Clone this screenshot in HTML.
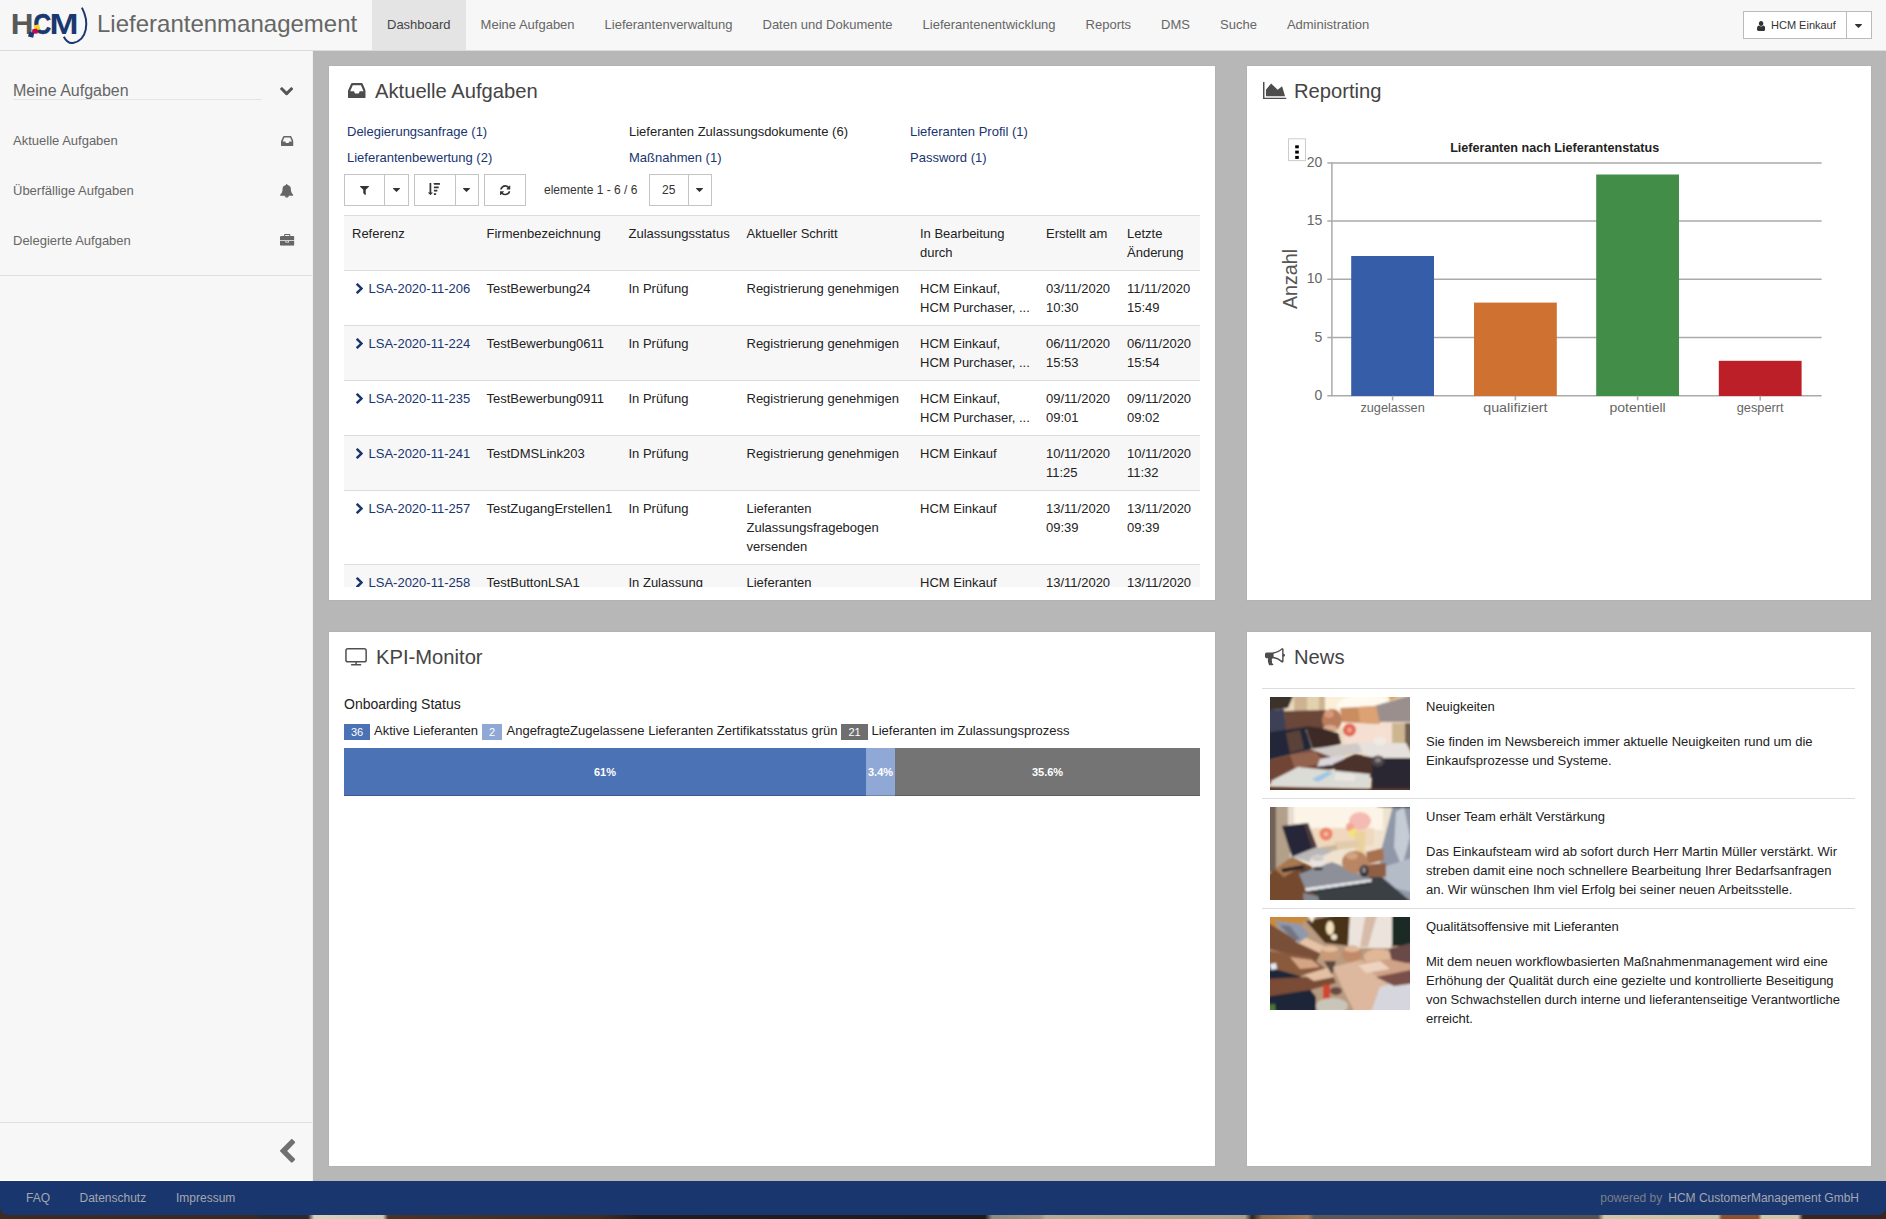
<!DOCTYPE html>
<html lang="de">
<head>
<meta charset="utf-8">
<title>Lieferantenmanagement</title>
<style>
*{box-sizing:border-box;}
html,body{margin:0;padding:0;}
body{width:1886px;height:1219px;overflow:hidden;position:relative;background:#3a2b22;font-family:"Liberation Sans",Arial,sans-serif;font-size:13px;line-height:19px;color:#222;}
a{color:#18356f;text-decoration:none;}
svg{display:block;}
.abs{position:absolute;}
#bgstrip{position:absolute;left:0;top:1205px;width:1886px;height:14px;background:linear-gradient(90deg,#3b2b23 0px,#3a2a24 255px,#2a2830 262px,#2c2a30 308px,#d6d2be 314px,#cfcab4 383px,#4a3428 388px,#3f2c24 600px,#221d1e 640px,#1f1b1c 985px,#8a8a80 992px,#9a9484 1040px,#b4ac94 1046px,#a8a08a 1245px,#2a2422 1252px,#8a6a4a 1262px,#a08060 1308px,#5a5858 1314px,#555252 1598px,#d0c8a8 1604px,#c8c0a0 1718px,#8a5030 1722px,#8a5030 1758px,#cfc7a8 1762px,#cfc7a8 1798px,#3a2420 1803px,#3a2420 1886px);}
#header{position:absolute;left:0;top:0;width:1886px;height:51px;background:#f7f7f7;border-bottom:1px solid #dcdcdc;}
#brand{position:absolute;left:97px;top:9px;font-size:24px;line-height:30px;color:#666;}
#nav{position:absolute;left:372px;top:0;height:50px;display:flex;}
#nav div{height:50px;padding:0 15px;line-height:49px;font-size:13px;color:#666;white-space:nowrap;}
#nav div.act{background:#e4e4e4;color:#444;}
#userbtn{position:absolute;left:1743px;top:11px;width:129px;height:28px;border:1px solid #bbb;background:#fff;}
#sidebar{position:absolute;left:0;top:51px;width:313px;height:1130px;background:#f7f7f7;border-right:1px solid #f0f0f0;border-bottom:1px solid #fff;}
#main{position:absolute;left:313px;top:51px;width:1573px;height:1130px;background:#b7b7b7;}
.panel{position:absolute;background:#fff;border:1px solid #b2b2b2;}
.ptitle{position:absolute;font-size:20.2px;line-height:26px;color:#444;white-space:nowrap;}
#footer{position:absolute;left:0;top:1181px;width:1886px;height:33.6px;background:#19366e;border-radius:0 0 8px 8px;color:#a4a7ae;font-size:12px;line-height:34.6px;}

.ic{position:absolute;overflow:visible;}
#logo{position:absolute;left:0;top:0;}
#userbtn .sep{position:absolute;left:102px;top:0;width:1px;height:26px;background:#bbb;}
#userbtn .t{position:absolute;left:27px;top:0;font-size:11px;line-height:26px;color:#333;white-space:nowrap;}
#sb-h{position:absolute;left:13px;top:30px;width:249px;height:19px;font-size:16px;line-height:19px;color:#666;border-bottom:1px solid #e4e4e4;}
.sb-i{position:absolute;left:13px;font-size:13px;line-height:19px;color:#666;white-space:nowrap;}
.sb-line{position:absolute;left:0;width:312px;height:1px;background:#e0e0e0;}
#footer span{position:absolute;top:0;white-space:nowrap;}

.lnk{position:absolute;font-size:13px;line-height:19px;white-space:nowrap;color:#18356f;}
.btn{position:absolute;top:108px;height:32px;background:#fff;border:1px solid #c4c4c4;}
.btn i{position:absolute;top:0;width:1px;height:30px;background:#c4c4c4;}
#tblwrap{position:absolute;left:15px;top:149px;width:856px;height:372px;overflow:hidden;}
#tbl{border-collapse:collapse;table-layout:fixed;width:856px;font-size:13px;line-height:19px;color:#222;}
#tbl th,#tbl td{padding:8px;border-top:1px solid #ddd;text-align:left;vertical-align:top;font-weight:normal;white-space:nowrap;overflow:visible;}
#tbl th{background:#f7f7f7;}
#tbl tr.alt td{background:#f7f7f7;}
#tbl td.ref{position:relative;padding-left:24.5px;}
#tbl td.ref svg{position:absolute;left:12.2px;top:11.8px;}

.bdg{position:absolute;top:91.5px;height:16.5px;color:#fff;font-size:11px;line-height:16.5px;text-align:center;}
.lg{position:absolute;top:89px;font-size:13px;line-height:19px;white-space:nowrap;color:#222;}
#kbar{position:absolute;left:15px;top:116px;width:856px;height:48px;box-shadow:inset 0 -1px 0 rgba(0,0,0,.25);}
#kbar div{position:absolute;top:0;height:48px;color:#fff;font-size:11px;font-weight:bold;line-height:48px;text-align:center;box-shadow:inset 0 -1px 0 rgba(0,0,0,.2);}
.nline{position:absolute;left:15px;width:593px;height:1px;background:#ddd;}
.nimg{position:absolute;left:23px;width:140px;height:93px;overflow:hidden;}
.nt{position:absolute;left:179px;width:425px;font-size:13px;line-height:19px;color:#222;}
</style>
</head>
<body>
<svg width="0" height="0" style="position:absolute">
<defs>
<symbol id="i-chev-down" viewBox="90 533 1612 1035" preserveAspectRatio="none"><path d="M1683 808l-742 741q-19 19-45 19t-45-19l-742-741q-19-19-19-45.500t19-45.500l166-165q19-19 45-19t45 19l531 531 531-531q19-19 45-19t45 19l166 165q19 19 19 45.500t-19 45.500z"/></symbol>
<symbol id="i-chev-left" viewBox="410 26 1036 1612" preserveAspectRatio="none"><path d="M1427 301l-531 531 531 531q19 19 19 45t-19 45l-166 166q-19 19-45 19t-45-19l-742-742q-19-19-19-45t19-45l742-742q19-19 45-19t45 19l166 166q19 19 19 45t-19 45z"/></symbol>
<symbol id="i-chev-right" viewBox="346 26 1036 1612" preserveAspectRatio="none"><path d="M1363 877l-742 742q-19 19-45 19t-45-19l-166-166q-19-19-19-45t19-45l531-531-531-531q-19-19-19-45t19-45l166-166q19-19 45-19t45 19l742 742q19 19 19 45t-19 45z"/></symbol>
<symbol id="i-caret" viewBox="384 640 1024 576" preserveAspectRatio="none"><path d="M1408 704q0 26-19 45l-448 448q-19 19-45 19t-45-19l-448-448q-19-19-19-45t19-45 45-19h896q26 0 45 19t19 45z"/></symbol>
<symbol id="i-filter" viewBox="191 256 1410 1408" preserveAspectRatio="none"><path d="M1595 295q17 41-14 70l-493 493v742q0 42-39 59-13 5-25 5-27 0-45-19l-256-256q-19-19-19-45v-486l-493-493q-31-29-14-70 17-39 59-39h1280q42 0 59 39z"/></symbol>
<symbol id="i-refresh" viewBox="128 128 1536 1536" preserveAspectRatio="none"><path d="M1639 1056q0 5-1 7-64 268-268 434.500t-478 166.500q-146 0-282.500-55t-243.500-157l-129 129q-19 19-45 19t-45-19-19-45v-448q0-26 19-45t45-19h448q26 0 45 19t19 45-19 45l-137 137q71 66 161 102t187 36q134 0 250-65t186-179q11-17 53-117 8-23 30-23h192q13 0 22.500 9.500t9.500 22.500zm25-800v448q0 26-19 45t-45 19h-448q-26 0-45-19t-19-45 19-45l138-138q-148-137-349-137-134 0-250 65t-186 179q-11 17-53 117-8 23-30 23h-199q-13 0-22.500-9.500t-9.500-22.500v-7q65-268 270-434.500t480-166.500q146 0 284 55.500t245 156.500l130-129q19-19 45-19t45 19 19 45z"/></symbol>
<symbol id="i-inbox" viewBox="128 256 1536 1280" preserveAspectRatio="none"><path d="M1151 960h316q-1-3-2.500-8t-2.500-8l-212-496h-708l-212 496q-1 2-2.500 8t-2.500 8h316l95 192h320zm513 30v482q0 26-19 45t-45 19h-1408q-26 0-45-19t-19-45v-482q0-62 25-123l238-552q10-25 36.500-42t52.500-17h832q26 0 52.500 17t36.500 42l238 552q25 61 25 123z"/></symbol>
<symbol id="i-bell" viewBox="64 0 1664 1792" preserveAspectRatio="none"><path d="M912 1696q0-16-16-16-59 0-101.500-42.500t-42.500-101.500q0-16-16-16t-16 16q0 73 51.500 124.500t124.500 51.500q16 0 16-16zm816-288q0 52-38 90t-90 38h-448q0 106-75 181t-181 75-181-75-75-181h-448q-52 0-90-38t-38-90q50-42 91-88t85-119.500 74.500-158.500 50-206 19.500-260q0-152 117-282.500t307-158.500q-8-19-8-39 0-40 28-68t68-28 68 28 28 68q0 20-8 39 190 28 307 158.500t117 282.500q0 139 19.500 260t50 206 74.500 158.500 85 119.500 91 88z"/></symbol>
<symbol id="i-briefcase" viewBox="0 0 1792 1536" preserveAspectRatio="none"><path d="M640 256h512v-128h-512v128zm1152 640v480q0 66-47 113t-113 47h-1472q-66 0-113-47t-47-113v-480h672v160q0 26 19 45t45 19h320q26 0 45-19t19-45v-160h672zm-768 0v128h-256v-128h256zm768-480v384h-1792v-384q0-66 47-113t113-47h352v-160q0-40 28-68t68-28h576q40 0 68 28t28 68v160h352q66 0 113 47t47 113z"/></symbol>
<symbol id="i-desktop" viewBox="-64 0 1920 1664" preserveAspectRatio="none"><path d="M1728 992v-832q0-13-9.500-22.500t-22.500-9.500h-1600q-13 0-22.500 9.500t-9.500 22.500v832q0 13 9.500 22.500t22.500 9.500h1600q13 0 22.500-9.500t9.500-22.500zm128-832v1088q0 66-47 113t-113 47h-544q0 37 16 77.500t32 71 16 43.500q0 26-19 45t-45 19h-512q-26 0-45-19t-19-45q0-14 16-44t32-70 16-78h-544q-66 0-113-47t-47-113v-1088q0-66 47-113t113-47h1600q66 0 113 47t47 113z"/></symbol>
<symbol id="i-bullhorn" viewBox="0 128 1792 1537" preserveAspectRatio="none"><path d="M1664 640q53 0 90.500 37.500t37.500 90.500-37.500 90.500-90.500 37.500v384q0 52-38 90t-90 38q-417-347-812-380-58 19-91 66t-31 100.500 40 92.500q-20 33-23 65.500t6 58 33.500 55 48 50 61.500 50.500q-29 58-111.500 83t-168.500 11.500-132-55.500q-7-23-29.500-87.500t-32-94.500-23-89-15-101 3.500-98.500 22-110.500h-122q-66 0-113-47t-47-113v-192q0-66 47-113t113-47h480q435 0 896-384 52 0 90 38t38 90v384zm-128 604v-954q-394 302-768 343v270q377 42 768 341z"/></symbol>
<symbol id="i-area" viewBox="0 128 2048 1536" preserveAspectRatio="none"><path d="M2048 1536v128h-2048v-1536h128v1408h1920zm-384-1024l256 896h-1664v-576l448-576 576 576z"/></symbol>
<symbol id="i-user" viewBox="192 128 1408 1536" preserveAspectRatio="none"><path d="M1600 1405q0 120-73 189.500t-194 69.500h-874q-121 0-194-69.500t-73-189.500q0-53 3.500-103.500t14-109 26.500-108.500 43-97.500 62-81 85.500-53.500 111.500-20q9 0 42 21.500t74.500 48 108 48 133.500 21.500 133.500-21.500 108-48 74.500-48 42-21.500q61 0 111.500 20t85.500 53.500 62 81 43 97.500 26.500 108.500 14 109 3.500 103.500zm-320-893q0 159-112.500 271.500t-271.500 112.500-271.500-112.500-112.500-271.500 112.500-271.500 271.500-112.500 271.500 112.500 112.500 271.500z"/></symbol>
<symbol id="i-sortdesc" viewBox="31 0 1761 1792" preserveAspectRatio="none"><path d="M736 1440q0 12-10 24l-319 319q-10 9-23 9-12 0-23-9l-320-320q-15-16-7-35 8-20 30-20h192v-1376q0-14 9-23t23-9h192q14 0 23 9t9 23v1376h192q14 0 23 9t9 23z"/><rect x="896" y="1536" width="320" height="256" rx="32"/><rect x="896" y="1024" width="512" height="256" rx="32"/><rect x="896" y="512" width="704" height="256" rx="32"/><rect x="896" y="0" width="896" height="256" rx="32"/></symbol>
</defs>
</svg>
<div id="bgstrip"></div>
<div id="header">
<svg id="logo" width="97" height="50" viewBox="0 0 97 50">
<text x="10.7" y="33.7" font-family="Liberation Sans, Arial, sans-serif" font-weight="bold" font-size="29" fill="#585858" textLength="22.8" lengthAdjust="spacingAndGlyphs">H</text>
<text x="33.6" y="33.7" font-family="Liberation Sans, Arial, sans-serif" font-weight="bold" font-size="29" fill="#1a3770" stroke="#1a3770" stroke-width="0.6" textLength="17.6" lengthAdjust="spacingAndGlyphs">C</text>
<text x="49.6" y="33.7" font-family="Liberation Sans, Arial, sans-serif" font-weight="bold" font-size="29" fill="#1a3770" textLength="29" lengthAdjust="spacingAndGlyphs">M</text>
<path d="M81.9 7.6 C89.5 22 87.5 40 73 43 C69 43.6 66 41 63.8 36.8" fill="none" stroke="#1a3770" stroke-width="2"/>
<polygon points="33.6,25.4 39,24.2 40.2,29.4 34.8,30.4" fill="#ffd41c"/>
<polygon points="32.4,29.2 37.2,28.6 37.8,33.4 31.8,33.8" fill="#c5074f"/>
<polygon points="29.3,31.8 34.2,33 33.2,37.8 28,36.6" fill="#1a3770"/>
</svg>
  <div id="brand">Lieferantenmanagement</div>
  <div id="nav">
    <div class="act">Dashboard</div><div>Meine Aufgaben</div><div>Lieferantenverwaltung</div><div>Daten und Dokumente</div><div>Lieferantenentwicklung</div><div>Reports</div><div>DMS</div><div>Suche</div><div>Administration</div>
  </div>
  <div id="userbtn"><svg class="ic" style="left:13px;top:8.5px;" width="8.2" height="10" fill="#333"><use href="#i-user" width="8.2" height="10"/></svg><div class="t">HCM Einkauf</div><div class="sep"></div><svg class="ic" style="left:111px;top:11.5px;" width="7" height="4" fill="#333"><use href="#i-caret" width="7" height="4"/></svg></div>
</div>
<div id="sidebar"><div id="sb-h">Meine Aufgaben</div><svg class="ic" style="left:280px;top:35.8px;" width="13.2" height="8.6" fill="#555"><use href="#i-chev-down" width="13.2" height="8.6"/></svg><div class="sb-i" style="top:80px;">Aktuelle Aufgaben</div><svg class="ic" style="left:280.5px;top:85px;" width="12.5" height="10" fill="#666"><use href="#i-inbox" width="12.5" height="10"/></svg><div class="sb-i" style="top:130px;">Überfällige Aufgaben</div><svg class="ic" style="left:280px;top:132.6px;" width="13.4" height="13.8" fill="#666"><use href="#i-bell" width="13.4" height="13.8"/></svg><div class="sb-i" style="top:180px;">Delegierte Aufgaben</div><svg class="ic" style="left:279.5px;top:182.7px;" width="14.4" height="11.8" fill="#666"><use href="#i-briefcase" width="14.4" height="11.8"/></svg><div class="sb-line" style="top:224px;"></div><div class="sb-line" style="top:1071px;"></div><svg class="ic" style="left:280px;top:1088px;" width="15.2" height="23.8" fill="#707070"><use href="#i-chev-left" width="15.2" height="23.8"/></svg></div>
<div id="main"></div>
<div class="panel" id="p1" style="left:328px;top:65px;width:888px;height:536px;"><svg class="ic" style="left:19.1px;top:17px;" width="17.7" height="14.9" fill="#4d4d4d"><use href="#i-inbox" width="17.7" height="14.9"/></svg><div class="ptitle" style="left:46px;top:12px;">Aktuelle Aufgaben</div><a class="lnk" style="left:18px;top:56px;">Delegierungsanfrage (1)</a><span class="lnk" style="left:300px;top:56px;color:#222;">Lieferanten Zulassungsdokumente (6)</span><a class="lnk" style="left:581px;top:56px;">Lieferanten Profil (1)</a><a class="lnk" style="left:18px;top:82px;">Lieferantenbewertung (2)</a><a class="lnk" style="left:300px;top:82px;">Maßnahmen (1)</a><a class="lnk" style="left:581px;top:82px;">Password (1)</a><div class="btn" style="left:15px;width:65px;"><i style="left:39px;"></i><svg class="ic" style="left:15px;top:11px;" width="9" height="9" fill="#333"><use href="#i-filter" width="9" height="9"/></svg><svg class="ic" style="left:48px;top:12.6px;" width="7" height="4" fill="#333"><use href="#i-caret" width="7" height="4"/></svg></div><div class="btn" style="left:85px;width:65px;"><i style="left:40px;"></i><svg class="ic" style="left:13.2px;top:7.6px;" width="12" height="12" fill="#333"><use href="#i-sortdesc" width="12" height="12"/></svg><svg class="ic" style="left:48.4px;top:12.6px;" width="7" height="4" fill="#333"><use href="#i-caret" width="7" height="4"/></svg></div><div class="btn" style="left:155px;width:42px;"><svg class="ic" style="left:15px;top:10px;" width="10.5" height="10.5" fill="#333"><use href="#i-refresh" width="10.5" height="10.5"/></svg></div><span class="lnk" style="left:215px;top:115px;font-size:12px;color:#333;">elemente 1 - 6 / 6</span><div class="btn" style="left:320px;width:63px;"><i style="left:38px;"></i><span style="position:absolute;left:12px;top:6px;font-size:12px;line-height:19px;color:#333;">25</span><svg class="ic" style="left:46.4px;top:12.6px;" width="7" height="4" fill="#333"><use href="#i-caret" width="7" height="4"/></svg></div><div id="tblwrap"><table id="tbl"><colgroup><col style="width:134.5px"><col style="width:142px"><col style="width:118px"><col style="width:173.5px"><col style="width:126px"><col style="width:81px"><col style="width:81px"></colgroup><tr><th>Referenz</th><th>Firmenbezeichnung</th><th>Zulassungsstatus</th><th>Aktueller Schritt</th><th>In Bearbeitung<br>durch</th><th>Erstellt am</th><th>Letzte<br>Änderung</th></tr><tr><td class="ref"><svg width="7.2" height="11" fill="#18356f"><use href="#i-chev-right" width="7.2" height="11"/></svg><a>LSA-2020-11-206</a></td><td>TestBewerbung24</td><td>In Prüfung</td><td>Registrierung genehmigen</td><td>HCM Einkauf,<br>HCM Purchaser, ...</td><td>03/11/2020<br>10:30</td><td>11/11/2020<br>15:49</td></tr><tr class="alt"><td class="ref"><svg width="7.2" height="11" fill="#18356f"><use href="#i-chev-right" width="7.2" height="11"/></svg><a>LSA-2020-11-224</a></td><td>TestBewerbung0611</td><td>In Prüfung</td><td>Registrierung genehmigen</td><td>HCM Einkauf,<br>HCM Purchaser, ...</td><td>06/11/2020<br>15:53</td><td>06/11/2020<br>15:54</td></tr><tr><td class="ref"><svg width="7.2" height="11" fill="#18356f"><use href="#i-chev-right" width="7.2" height="11"/></svg><a>LSA-2020-11-235</a></td><td>TestBewerbung0911</td><td>In Prüfung</td><td>Registrierung genehmigen</td><td>HCM Einkauf,<br>HCM Purchaser, ...</td><td>09/11/2020<br>09:01</td><td>09/11/2020<br>09:02</td></tr><tr class="alt"><td class="ref"><svg width="7.2" height="11" fill="#18356f"><use href="#i-chev-right" width="7.2" height="11"/></svg><a>LSA-2020-11-241</a></td><td>TestDMSLink203</td><td>In Prüfung</td><td>Registrierung genehmigen</td><td>HCM Einkauf</td><td>10/11/2020<br>11:25</td><td>10/11/2020<br>11:32</td></tr><tr><td class="ref"><svg width="7.2" height="11" fill="#18356f"><use href="#i-chev-right" width="7.2" height="11"/></svg><a>LSA-2020-11-257</a></td><td>TestZugangErstellen1</td><td>In Prüfung</td><td>Lieferanten<br>Zulassungsfragebogen<br>versenden</td><td>HCM Einkauf</td><td>13/11/2020<br>09:39</td><td>13/11/2020<br>09:39</td></tr><tr class="alt"><td class="ref"><svg width="7.2" height="11" fill="#18356f"><use href="#i-chev-right" width="7.2" height="11"/></svg><a>LSA-2020-11-258</a></td><td>TestButtonLSA1</td><td>In Zulassung</td><td>Lieferanten<br>Zulassungsfragebogen</td><td>HCM Einkauf</td><td>13/11/2020<br>09:41</td><td>13/11/2020<br>09:41</td></tr></table></div></div>
<div class="panel" id="p2" style="left:1246px;top:65px;width:626px;height:536px;"><svg class="ic" style="left:16.3px;top:16.1px;" width="23.5" height="17.1" fill="#4d4d4d"><use href="#i-area" width="23.5" height="17.1"/></svg><div class="ptitle" style="left:47px;top:12px;">Reporting</div><svg class="ic" style="left:0;top:0;" width="624" height="534" viewBox="1247 66 624 534" font-family="Liberation Sans, Arial, sans-serif"><line x1="1327.3" y1="395.7" x2="1821.6" y2="395.7" stroke="#aaa" stroke-width="1.5"/><text x="1322.3" y="399.7" font-size="14" fill="#666" text-anchor="end">0</text><line x1="1327.3" y1="337.5" x2="1821.6" y2="337.5" stroke="#aaa" stroke-width="1.5"/><text x="1322.3" y="341.5" font-size="14" fill="#666" text-anchor="end">5</text><line x1="1327.3" y1="279.3" x2="1821.6" y2="279.3" stroke="#aaa" stroke-width="1.5"/><text x="1322.3" y="283.3" font-size="14" fill="#666" text-anchor="end">10</text><line x1="1327.3" y1="221.1" x2="1821.6" y2="221.1" stroke="#aaa" stroke-width="1.5"/><text x="1322.3" y="225.1" font-size="14" fill="#666" text-anchor="end">15</text><line x1="1327.3" y1="162.9" x2="1821.6" y2="162.9" stroke="#aaa" stroke-width="1.5"/><text x="1322.3" y="166.9" font-size="14" fill="#666" text-anchor="end">20</text><line x1="1331.9" y1="162.3" x2="1331.9" y2="396.3" stroke="#aaa" stroke-width="1.5"/><rect x="1351.2" y="256.0" width="82.8" height="140.0" fill="#365ea8"/><line x1="1392.6" y1="395.7" x2="1392.6" y2="400.4" stroke="#aaa" stroke-width="1.5"/><text x="1392.6" y="412" font-size="13.5" fill="#666" text-anchor="middle" textLength="64.4" lengthAdjust="spacingAndGlyphs">zugelassen</text><rect x="1474" y="302.6" width="82.8" height="93.4" fill="#cf7130"/><line x1="1515.4" y1="395.7" x2="1515.4" y2="400.4" stroke="#aaa" stroke-width="1.5"/><text x="1515.4" y="412" font-size="13.5" fill="#666" text-anchor="middle" textLength="64.4" lengthAdjust="spacingAndGlyphs">qualifiziert</text><rect x="1596.2" y="174.5" width="82.8" height="221.5" fill="#428d48"/><line x1="1637.6" y1="395.7" x2="1637.6" y2="400.4" stroke="#aaa" stroke-width="1.5"/><text x="1637.6" y="412" font-size="13.5" fill="#666" text-anchor="middle" textLength="56.2" lengthAdjust="spacingAndGlyphs">potentiell</text><rect x="1718.8" y="360.8" width="82.8" height="35.2" fill="#bc1f28"/><line x1="1760.2" y1="395.7" x2="1760.2" y2="400.4" stroke="#aaa" stroke-width="1.5"/><text x="1760.2" y="412" font-size="13.5" fill="#666" text-anchor="middle" textLength="46.9" lengthAdjust="spacingAndGlyphs">gesperrt</text><text x="1554.7" y="151.8" font-size="13" font-weight="bold" fill="#222" text-anchor="middle" textLength="209" lengthAdjust="spacingAndGlyphs">Lieferanten nach Lieferantenstatus</text><text transform="translate(1296.5,279) rotate(-90)" font-size="20" fill="#555" text-anchor="middle" textLength="60" lengthAdjust="spacingAndGlyphs">Anzahl</text><rect x="1288.5" y="138.8" width="17" height="21.8" fill="#fff" stroke="#ccc" stroke-width="1"/><rect x="1295.2" y="145.3" width="3.6" height="3" fill="#000"/><rect x="1295.2" y="150.6" width="3.6" height="3" fill="#000"/><rect x="1295.2" y="155.9" width="3.6" height="3" fill="#000"/></svg></div>
<div class="panel" id="p3" style="left:328px;top:631px;width:888px;height:536px;"><svg class="ic" style="left:0;top:0;" width="60" height="40" viewBox="329 632 60 40" fill="none" stroke="#505050" stroke-width="1.5" stroke-linecap="round"><rect x="345.95" y="648.75" width="20.2" height="13.1" rx="1.9"/><line x1="356.1" y1="662" x2="356.1" y2="664.6" stroke-linecap="butt"/><line x1="351.6" y1="664.75" x2="360.6" y2="664.75"/></svg><div class="ptitle" style="left:47px;top:12px;">KPI-Monitor</div><div class="lg" style="left:15px;top:63px;font-size:14px;">Onboarding Status</div><div class="bdg" style="left:15px;width:26px;background:#4a72b4;">36</div><div class="lg" style="left:45px;">Aktive Lieferanten</div><div class="bdg" style="left:153px;width:20px;background:#8fa8d6;">2</div><div class="lg" style="left:177.5px;">AngefragteZugelassene Lieferanten Zertifikatsstatus grün</div><div class="bdg" style="left:512px;width:27px;background:#6f6f6f;">21</div><div class="lg" style="left:542.5px;">Lieferanten im Zulassungsprozess</div><div id="kbar"><div style="left:0;width:522px;background:#4a72b4;">61%</div><div style="left:522px;width:29px;background:#8fa8d6;">3.4%</div><div style="left:551px;width:305px;background:#747474;">35.6%</div></div></div>
<div class="panel" id="p4" style="left:1246px;top:631px;width:626px;height:536px;"><svg class="ic" style="left:17.799999999999955px;top:15.899999999999977px;" width="20" height="17.6" fill="#4d4d4d"><use href="#i-bullhorn" width="20" height="17.6"/></svg><div class="ptitle" style="left:47px;top:12px;">News</div><div class="nline" style="top:56px;"></div><div class="nimg" id="nimg1" style="top:65px;background:#a08070;"><svg width="140" height="93" viewBox="0 0 140 93"><defs><filter id="bl1" x="-10%" y="-10%" width="120%" height="120%"><feGaussianBlur stdDeviation="1.3"/></filter></defs><rect width="140" height="93" fill="#e9d9c0"/><g filter="url(#bl1)"><rect x="-5" y="-5" width="150" height="40" fill="#ead9bd"/><rect x="24" y="-5" width="32" height="35" fill="#cdb392"/><rect x="37" y="-5" width="12" height="33" fill="#e3d0ae"/><rect x="55" y="-5" width="70" height="36" fill="#fcefd8"/><ellipse cx="95" cy="9" rx="28" ry="11" fill="#fffaf0"/><polygon points="-5,-5 25,-5 18,11 -5,14" fill="#3b302c"/><polygon points="104,9 145,-3 145,25 110,27" fill="#9a8f8c"/><polygon points="118,-3 135,-3 120,4" fill="#d9a35a"/><rect x="74" y="25" width="72" height="22" fill="#f4dfd2"/><rect x="122" y="26" width="14" height="34" fill="#cdb68f"/><rect x="135" y="26" width="8" height="36" fill="#6f5f52"/><polygon points="14,14 56,13 62,31 15,34" fill="#6a4637"/><polygon points="-5,13 14,12 16,36 -5,37" fill="#3c4157"/><polygon points="70,11 106,9 110,27 72,25" fill="#c98d60"/><polygon points="88,10 106,9 110,27 90,26" fill="#dca273"/><ellipse cx="62" cy="23" rx="10" ry="11" fill="#b97c5b"/><ellipse cx="59" cy="17" rx="5" ry="4" fill="#d89a78"/><ellipse cx="60" cy="31" rx="7" ry="3" fill="#d9ab8e"/><polygon points="-5,36 35,30 42,52 -5,64" fill="#232839"/><polygon points="16,36 30,33 34,52 20,56" fill="#5a4238"/><polygon points="35,29 52,31 68,36 71,47 43,53" fill="#3d2b26"/><ellipse cx="79.5" cy="33" rx="6.5" ry="6.5" fill="#e2654f"/><ellipse cx="79.5" cy="33" rx="2.5" ry="2.5" fill="#f0a090"/><polygon points="-5,64 42,52 62,56 64,72 -5,88" fill="#6f4434"/><polygon points="20,58 45,54 55,66 25,72" fill="#94634e"/><polygon points="40,52 88,46 95,54 64,61" fill="#d0cbc7"/><polygon points="88,46 136,46 145,63 96,63" fill="#e6e1dc"/><ellipse cx="110" cy="44" rx="6.5" ry="4.5" fill="#f1e9e3"/><polygon points="50,62 72,58 76,66 47,70" fill="#dad6da"/><polygon points="47,70 76,66 76,68.5 47,72.5" fill="#2a2530"/><polygon points="63,67 85,57 106,61 105,81 66,77" fill="#4c3129"/><polygon points="103,61 145,61 145,98 101,98" fill="#2b2733"/><ellipse cx="108" cy="64" rx="6.5" ry="5.5" fill="#4a4548"/><ellipse cx="108" cy="63" rx="3" ry="2.5" fill="#8a837f"/><polygon points="1,84 28,70 100,77 98,91 2,89" fill="#dcdcd6"/><polygon points="42,82 58,74 63,76 48,85" fill="#8cc0e8" opacity="0.8"/><polygon points="66,76 86,78 84,84 64,83" fill="#e9e6e2"/><polygon points="-5,89.5 98,91.5 145,91.5 145,98 -5,98" fill="#5b3d33"/></g></svg></div><div class="nt" style="top:65px;white-space:nowrap;">Neuigkeiten</div><div class="nt" style="top:100px;white-space:nowrap;">Sie finden im Newsbereich immer aktuelle Neuigkeiten rund um die<br>Einkaufsprozesse und Systeme.</div><div class="nline" style="top:166px;"></div><div class="nimg" id="nimg2" style="top:175px;background:#a08070;"><svg width="140" height="93" viewBox="0 0 140 93"><defs><filter id="bl2" x="-10%" y="-10%" width="120%" height="120%"><feGaussianBlur stdDeviation="1.3"/></filter></defs><rect width="140" height="93" fill="#ece0cc"/><g filter="url(#bl2)"><rect x="-5" y="-5" width="150" height="60" fill="#efe3cf"/><rect x="18" y="-5" width="95" height="28" fill="#fcf4e6"/><rect x="-5" y="-5" width="12" height="70" fill="#6f6054"/><rect x="6" y="-5" width="14" height="66" fill="#b3a08a"/><rect x="18" y="-5" width="6" height="26" fill="#e6ddd0"/><rect x="42" y="21" width="62" height="18" fill="#f0d8be"/><ellipse cx="90" cy="14" rx="11" ry="9" fill="#f4bab4"/><ellipse cx="80" cy="20" rx="4" ry="4" fill="#f2a58f"/><ellipse cx="84" cy="26" rx="5" ry="4" fill="#f6e36e"/><rect x="85" y="24" width="10" height="24" fill="#ead29c"/><ellipse cx="56" cy="27" rx="6.5" ry="6.5" fill="#ea8266"/><ellipse cx="56" cy="27" rx="2.5" ry="2.5" fill="#f4b5a0"/><polygon points="64,35 88,33 91,40 66,43" fill="#e2cbaa"/><polygon points="50,40 66,38 68,43 52,45" fill="#c9b59c"/><polygon points="112,40 124,-5 145,-5 145,98 122,98 108,72" fill="#8f98a8"/><polygon points="126,5 134,0 140,30 132,60 124,40" fill="#d3d9e1" opacity="0.8"/><polygon points="104,-5 145,-5 145,1 108,0" fill="#3a2a25"/><polygon points="96,45 113,41 114,53 98,57" fill="#a8714f"/><polygon points="107,62 145,50 145,86 111,78" fill="#b4bcc8"/><polygon points="-5,70 22,50 42,60 52,98 -5,98" fill="#75492f"/><polygon points="5,62 22,50 34,58 14,70" fill="#a87850"/><polygon points="30,62 112,70 145,98 50,98" fill="#3a4044"/><polygon points="12,19 38,16 47,40 22,50" fill="#262838"/><polygon points="34,17 38,16 47,40 42,42" fill="#5a4040" opacity="0.8"/><polygon points="22,50 47,40 63,44 40,55" fill="#bab7b9"/><polygon points="29,67 62,55 102,72 35,81" fill="#8d9099"/><polygon points="35,81 102,72 101,75 36,84.5" fill="#e6e6ec"/><polygon points="36,84.5 101,75 100,77 37,86" fill="#2c2f36"/><polygon points="33,86 48,89 50,98 34,98" fill="#84868e"/><ellipse cx="48" cy="54" rx="8" ry="6" fill="#e9e3e1"/><ellipse cx="48" cy="51.5" rx="6" ry="2.5" fill="#cfc8c2"/><ellipse cx="48" cy="61.5" rx="5" ry="1.8" fill="#3a3540"/><polygon points="11,62 33,58 34.5,61 13,65.5" fill="#1c1e28"/><ellipse cx="85" cy="55" rx="13" ry="11" fill="#b98563"/><ellipse cx="82" cy="49" rx="6" ry="3.5" fill="#d5a380"/><polygon points="94,58 116,56 116,70 98,70" fill="#8f5e45"/><ellipse cx="94" cy="64" rx="4.5" ry="6" fill="#2d2d33"/><ellipse cx="94" cy="63" rx="2" ry="3" fill="#8a8a90"/></g></svg></div><div class="nt" style="top:175px;white-space:nowrap;">Unser Team erhält Verstärkung</div><div class="nt" style="top:210px;white-space:nowrap;">Das Einkaufsteam wird ab sofort durch Herr Martin Müller verstärkt. Wir<br>streben damit eine noch schnellere Bearbeitung Ihrer Bedarfsanfragen<br>an. Wir wünschen Ihm viel Erfolg bei seiner neuen Arbeitsstelle.</div><div class="nline" style="top:276px;"></div><div class="nimg" id="nimg3" style="top:285px;background:#a08070;"><svg width="140" height="93" viewBox="0 0 140 93"><defs><filter id="bl3" x="-10%" y="-10%" width="120%" height="120%"><feGaussianBlur stdDeviation="1.3"/></filter></defs><rect width="140" height="93" fill="#b89a80"/><g filter="url(#bl3)"><rect x="-5" y="-5" width="150" height="103" fill="#b89a80"/><polygon points="-5,-5 42,-5 30,10 -5,9" fill="#c98a3a"/><polygon points="36,4 82,-5 80,29 55,26" fill="#4a3018"/><polygon points="36,-5 47,-5 42,6" fill="#fff6e0"/><ellipse cx="60" cy="11" rx="4" ry="7" fill="#f3e2bc"/><ellipse cx="64" cy="20" rx="3" ry="3" fill="#efe0c8"/><polygon points="80,-5 129,-5 121,31 78,31" fill="#ece4dc"/><polygon points="96,-5 108,-5 98,30 90,30" fill="#d2b09c" opacity="0.8"/><rect x="122" y="-5" width="23" height="34" fill="#1e2a26"/><polygon points="-5,4 28,24 52,34 46,45 -5,31" fill="#7a5038"/><polygon points="28,17 56,30 52,37 26,25" fill="#e6c2a6"/><polygon points="5,4 30,7 39,18 29,26 10,12" fill="#8e99ac"/><polygon points="10,8 20,9 30,22 24,24" fill="#6a6470" opacity="0.7"/><ellipse cx="60" cy="37" rx="10" ry="8.5" fill="#c99a78"/><ellipse cx="82" cy="37" rx="10" ry="8.5" fill="#c08a68"/><ellipse cx="82" cy="32" rx="8" ry="3" fill="#e0b898"/><ellipse cx="60" cy="32" rx="8" ry="3" fill="#e4bf9f"/><ellipse cx="108" cy="40" rx="14" ry="8" fill="#e0b898"/><polygon points="119,32 145,25 145,46 122,46" fill="#6a4a48"/><polygon points="-5,33 40,40 56,52 30,59 -5,49" fill="#8a5a3e"/><polygon points="20,40 42,43 50,50 30,52" fill="#d4a585"/><polygon points="-5,49 30,59 46,80 46,98 -5,98" fill="#1f2838"/><polygon points="0,47 6,46 7,52 1,53" fill="#e8ecf4"/><polygon points="-5,62 36,60 60,51 66,66 40,73 -5,80" fill="#7a4c36"/><polygon points="34,58 60,50 64,60 44,64" fill="#e2c0a4"/><polygon points="54,44 66,44 62,58" fill="#5a4a40"/><rect x="53" y="68" width="7" height="14" fill="#d2452e"/><ellipse cx="66" cy="74" rx="6" ry="4" fill="#6a4a42"/><polygon points="63,50 90,43 145,56 145,98 86,98 72,70" fill="#ddb89e"/><polygon points="110,70 145,60 145,98 100,98" fill="#d5dae4" opacity="0.9"/><polygon points="88,46 118,42 145,48 145,62 110,61" fill="#d0a288"/><polygon points="88,48 110,44 120,52 96,56" fill="#ecd4c0"/><polygon points="106,60 145,52 145,66 124,69" fill="#7a5048"/><ellipse cx="62" cy="89" rx="16" ry="8" fill="#c9c5b8"/><polygon points="-5,88 5,87 6,98 -5,98" fill="#4a7a30"/></g></svg></div><div class="nt" style="top:285px;white-space:nowrap;">Qualitätsoffensive mit Lieferanten</div><div class="nt" style="top:320px;white-space:nowrap;">Mit dem neuen workflowbasierten Maßnahmenmanagement wird eine<br>Erhöhung der Qualität durch eine gezielte und kontrollierte Beseitigung<br>von Schwachstellen durch interne und lieferantenseitige Verantwortliche<br>erreicht.</div></div>
<div id="footer"><span style="left:26px;">FAQ</span><span style="left:79.5px;">Datenschutz</span><span style="left:176px;">Impressum</span><span style="right:27px;"><span style="position:static;color:#7b7f88;margin-right:6px;">powered by</span>HCM CustomerManagement GmbH</span></div>
</body>
</html>
